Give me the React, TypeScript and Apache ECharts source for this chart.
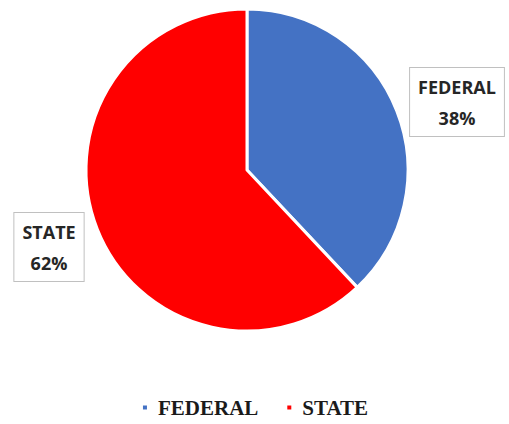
import React, { useEffect, useRef } from "react";
import * as echarts from "echarts";

const categories = ["FEDERAL", "STATE"];
const values = [38, 62];
const colors = ["#4472C4", "#FF0000"];

export default function App() {
  const ref = useRef<HTMLDivElement>(null);
  useEffect(() => {
    if (!ref.current) return;
    const chart = echarts.init(ref.current, null, { renderer: "svg" });
    const labelPos: Record<string, [number, number]> = {
      FEDERAL: [457, 102],
      STATE: [49, 247],
    };
    chart.setOption({
      animation: false,
      backgroundColor: "#ffffff",
      legend: {
        data: categories,
        top: 397,
        left: "center",
        padding: [0, 5, 0, 5],
        icon: "rect",
        itemWidth: 6,
        itemHeight: 6,
        itemGap: 27,
        textStyle: {
          fontFamily: "Liberation Serif",
          fontWeight: "bold",
          fontSize: 21,
          color: "#1a1a1a",
          padding: [0, 0, 0, 5],
        },
      },
      series: [
        {
          type: "pie",
          center: [247, 170],
          radius: 161,
          startAngle: 90,
          clockwise: true,
          avoidLabelOverlap: false,
          itemStyle: { borderColor: "#ffffff", borderWidth: 3 },
          label: {
            show: true,
            position: "outside",
            alignTo: "none",
            overflow: "none",
            formatter: "{b}\n{d}%",
            fontFamily: "Open Sans",
            fontWeight: "bold",
            fontSize: 18,
            lineHeight: 31,
            color: "#262626",
            backgroundColor: "#ffffff",
            borderColor: "#c0c0c0",
            borderWidth: 1,
            padding: [4, 8, 2, 8],
            align: "center",
          },
          labelLine: { show: false },
          labelLayout: (params: any) => {
            const name = categories[params.dataIndex];
            const p = labelPos[name];
            return { x: p[0], y: p[1], align: "center", verticalAlign: "middle", hideOverlap: false };
          },
          data: categories.map((c, i) => ({
            name: c,
            value: values[i],
            itemStyle: { color: colors[i] },
          })),
        },
      ],
    });
    return () => chart.dispose();
  }, []);
  return (
    <div
      ref={ref}
      style={{ position: "fixed", left: 0, top: 0, width: 509, height: 424 }}
    />
  );
}
